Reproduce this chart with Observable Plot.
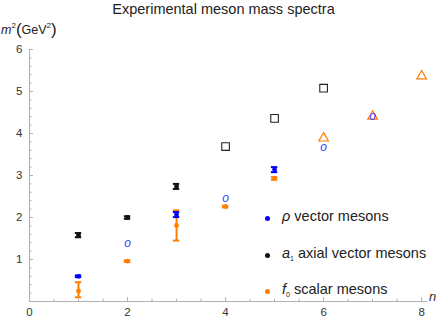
<!DOCTYPE html>
<html><head><meta charset="utf-8">
<script src="https://cdn.jsdelivr.net/npm/d3@7"></script>
<script src="https://cdn.jsdelivr.net/npm/@observablehq/plot@0.6"></script>
<style>
body{margin:0;background:#fff;font-family:"Liberation Sans",Arial,sans-serif;}
#wrap{position:relative;width:447px;height:321px;overflow:hidden;}
#chart{position:absolute;left:0;top:0;}
.title{position:absolute;left:0;width:447px;top:1px;text-align:center;font-size:14.5px;color:#222;}
.ylab{position:absolute;left:1px;top:20px;font-size:12.5px;color:#222;white-space:nowrap;}
.ylab sup{font-size:8px;vertical-align:6px;}
.ylab .par{font-size:17px;vertical-align:-1px;}
.xlab{position:absolute;left:429px;top:289px;font-size:13px;font-style:italic;color:#333;}
.legend{position:absolute;left:262px;top:208px;font-size:14.5px;color:#222;}
.legend .row{height:36.7px;position:relative;white-space:nowrap;}
.legend .dot{position:absolute;left:3px;top:8px;width:5px;height:5px;border-radius:50%;}
.legend .lab{position:absolute;left:20px;top:0px;}
.legend sub{font-size:7px;vertical-align:-3px;}
</style></head><body>
<div id="wrap">
<div id="chart"></div>
<div class="title">Experimental meson mass spectra</div>
<div class="ylab"><i>m</i><sup>2</sup><span class="par">(</span>GeV<sup>2</sup><span class="par">)</span></div>
<div class="xlab">n</div>
<div class="legend" id="legend"></div>
</div>
<script>
// rho vector mesons
const rhoN = [1, 3, 5];
const rhoM2 = [0.60, 2.07, 3.14];
const rhoLo = [0.58, 2.01, 3.08];
const rhoHi = [0.62, 2.13, 3.20];
const rhoOpenN = [2, 4, 6, 7];
const rhoOpen = [1.36, 2.43, 3.64, 4.40];
// a1 axial vector mesons
const a1N = [1, 2, 3];
const a1M2 = [1.58, 2.00, 2.74];
const a1Lo = [1.53, 1.97, 2.68];
const a1Hi = [1.63, 2.03, 2.80];
const a1OpenN = [4, 5, 6];
const a1Open = [3.69, 4.36, 5.08];
// f0 scalar mesons
const f0N = [1, 2, 3, 4, 5];
const f0M2 = [0.25, 0.96, 1.81, 2.26, 2.93];
const f0Lo = [0.10, 0.94, 1.45, 2.24, 2.90];
const f0Hi = [0.46, 0.98, 2.17, 2.28, 2.96];
const f0OpenN = [6, 7, 8];
const f0Open = [3.90, 4.42, 5.38];

const colRho = "#0000ff", colA1 = "#111111", colF0 = "#ff7f00";
const colRhoOpen = "#3a3aff";

const xTicks = [0, 2, 4, 6, 8];
const yTicks = [1, 2, 3, 4, 5, 6];

const legendSym = ["ρ", "a", "f"];
const legendSub = ["", "1", "0"];
const legendText = [" vector mesons", " axial vector mesons", " scalar mesons"];
const legendCol = [colRho, colA1, colF0];

function rows(N, M, L, H, c) { return N.map((n, i) => ({n, m2: M[i], lo: L[i], hi: H[i], c})); }
const err = [
  ...rows(f0N, f0M2, f0Lo, f0Hi, colF0),
  ...rows(a1N, a1M2, a1Lo, a1Hi, colA1),
  ...rows(rhoN, rhoM2, rhoLo, rhoHi, colRho)
];
const rhoO = rhoOpenN.map((n, i) => ({n, m2: rhoOpen[i]}));
const a1O = a1OpenN.map((n, i) => ({n, m2: a1Open[i]}));
const f0O = f0OpenN.map((n, i) => ({n, m2: f0Open[i]}));

const xMinor = d3.range(0.5, 8.1, 0.5).filter(v => !xTicks.includes(v));
const yMinor = d3.range(1, 30).map(i => i / 5).filter(v => Math.abs(v - Math.round(v)) > 1e-6);

const axisCol = "#b0b0b0";
const cap = 0.065;
const fmt = d3.format("d");

const plot = Plot.plot({
  width: 447, height: 321,
  marginLeft: 29, marginRight: 20, marginTop: 49, marginBottom: 20,
  style: {fontFamily: "Liberation Sans, Arial, sans-serif", fontSize: "11.5px", color: "#333", background: "transparent"},
  x: {domain: [0, 8.12], label: null},
  y: {domain: [0, 6], label: null},
  marks: [
    Plot.ruleY([0], {stroke: axisCol}),
    Plot.ruleX([0], {stroke: axisCol}),
    Plot.axisX({ticks: xTicks, tickSize: -4, stroke: axisCol, text: null, label: null}),
    Plot.axisX({ticks: xMinor, tickSize: -2.5, stroke: axisCol, text: null, label: null}),
    Plot.axisX({ticks: xTicks, tickSize: 0, tickPadding: 6, label: null, fill: "#333", tickFormat: fmt}),
    Plot.axisY({ticks: yTicks, tickSize: -4, stroke: axisCol, text: null, label: null}),
    Plot.axisY({ticks: yMinor, tickSize: -2.5, stroke: axisCol, text: null, label: null}),
    Plot.axisY({ticks: yTicks, tickSize: 0, tickPadding: 7, label: null, fill: "#333", tickFormat: fmt}),
    // error bars
    Plot.ruleX(err, {x: "n", y1: "lo", y2: "hi", stroke: "c", strokeWidth: 2}),
    Plot.ruleY(err, {x1: d => d.n - cap, x2: d => d.n + cap, y: "lo", stroke: "c", strokeWidth: 2}),
    Plot.ruleY(err, {x1: d => d.n - cap, x2: d => d.n + cap, y: "hi", stroke: "c", strokeWidth: 2}),
    Plot.dot(err, {x: "n", y: "m2", r: 2.4, fill: "c"}),
    // open markers
    Plot.dot(a1O, {x: "n", y: "m2", symbol: "square", r: 4.3, stroke: "#222", strokeWidth: 1.1, fill: "none"}),
    Plot.dot(f0O, {x: "n", y: "m2", symbol: "triangle", r: 3.6, stroke: colF0, strokeWidth: 1.2, fill: "none", dy: 0.5}),
    Plot.text(rhoO, {x: "n", y: "m2", text: () => "o", fontStyle: "italic", fontSize: 12, fill: colRhoOpen, dy: -1})
  ]
});
document.getElementById("chart").appendChild(plot);

const lg = document.getElementById("legend");
legendSym.forEach((s, i) => {
  const row = document.createElement("div");
  row.className = "row";
  row.innerHTML = `<span class="dot" style="background:${legendCol[i]}"></span><span class="lab"><i>${s}</i>${legendSub[i] ? `<sub>${legendSub[i]}</sub>` : ""}${legendText[i]}</span>`;
  lg.appendChild(row);
});
</script>
</body></html>
